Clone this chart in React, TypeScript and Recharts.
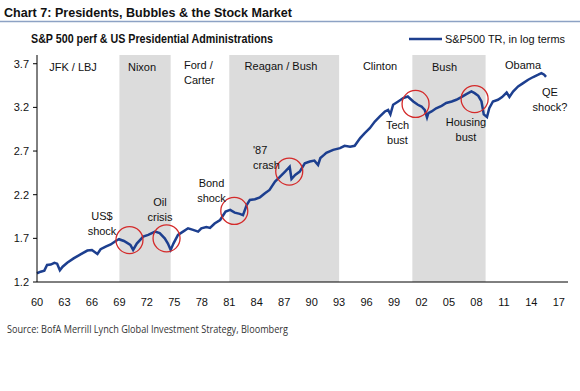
import { LineChart, Line, XAxis, YAxis, ReferenceArea, ReferenceDot } from "recharts";

// S&P500 total return, log10 terms
const years = [
  1960.0, 1960.4, 1960.8, 1961.1, 1961.5, 1961.9, 1962.2, 1962.5, 1962.8, 1963.3,
  1964.0, 1964.8, 1965.5, 1966.0, 1966.6, 1966.95, 1967.5, 1968.05, 1968.6, 1968.95,
  1969.5, 1970.2, 1970.5, 1970.9, 1971.6, 1972.15, 1972.9, 1973.4, 1973.95, 1974.3,
  1974.6, 1974.9, 1975.4, 1975.95, 1976.5, 1977.05, 1977.6, 1977.95, 1978.5, 1978.9,
  1979.4, 1980.0, 1980.6, 1981.1, 1981.6, 1982.15, 1982.5, 1982.9, 1983.25, 1983.8,
  1984.35, 1984.9, 1985.4, 1986.0, 1986.5, 1987.1, 1987.6, 1987.8, 1988.2, 1988.7,
  1989.25, 1989.8, 1990.3, 1990.7, 1990.95, 1991.35, 1991.6, 1992.35, 1993.1, 1993.6,
  1994.2, 1994.7, 1995.3, 1995.8, 1996.35, 1996.9, 1997.45, 1998.0, 1998.35, 1998.6,
  1998.9, 1999.45, 2000.0, 2000.5, 2001.1, 2001.6, 2002.0, 2002.35, 2002.6, 2002.75,
  2003.1, 2003.6, 2004.2, 2004.7, 2005.3, 2005.8, 2006.35, 2006.9, 2007.45, 2007.8,
  2008.2, 2008.55, 2008.8, 2009.15, 2009.4, 2009.8, 2010.35, 2010.8, 2011.3, 2011.6,
  2012.0, 2012.55, 2013.1, 2013.65, 2014.2, 2014.75, 2015.1, 2015.4, 2015.6,
];
const values = [
  1.30, 1.318, 1.33, 1.395, 1.40, 1.42, 1.41, 1.335, 1.375, 1.42,
  1.47, 1.52, 1.56, 1.567, 1.52, 1.575, 1.605, 1.63, 1.67, 1.69,
  1.67, 1.625, 1.567, 1.64, 1.72, 1.74, 1.777, 1.76, 1.70, 1.64,
  1.567, 1.64, 1.74, 1.777, 1.815, 1.797, 1.777, 1.815, 1.83, 1.82,
  1.87, 1.91, 2.006, 2.026, 1.995, 1.98, 1.965, 2.08, 2.14, 2.148,
  2.17, 2.217, 2.255, 2.35, 2.40, 2.465, 2.52, 2.38, 2.427, 2.465,
  2.56, 2.58, 2.59, 2.54, 2.62, 2.656, 2.68, 2.714, 2.733, 2.76,
  2.75, 2.76, 2.848, 2.905, 2.962, 3.038, 3.096, 3.153, 3.17, 3.12,
  3.23, 3.268, 3.307, 3.325, 3.268, 3.23, 3.21, 3.17, 3.085, 3.135,
  3.153, 3.19, 3.218, 3.25, 3.268, 3.287, 3.318, 3.352, 3.382, 3.363,
  3.333, 3.268, 3.12, 3.09, 3.19, 3.268, 3.287, 3.318, 3.37, 3.32,
  3.382, 3.44, 3.478, 3.517, 3.548, 3.574, 3.593, 3.575, 3.55,
];

const xTicks = [1960, 1963, 1966, 1969, 1972, 1975, 1978, 1981, 1984, 1987, 1990, 1993, 1996, 1999, 2002, 2005, 2008, 2011, 2014, 2017];
const yTicks = [1.2, 1.7, 2.2, 2.7, 3.2, 3.7];

// Republican administrations (shaded)
const bandStart = [1969.0, 1981.0, 2001.0];
const bandEnd = [1974.6, 1993.0, 2009.0];

// red circles round the bubbles / busts
const circleYears = [1970.1, 1974.15, 1981.55, 1987.55, 2001.35, 2007.8];
const circleValues = [1.68, 1.70, 2.014, 2.465, 3.24, 3.295];

const data = years.map((year, i) => ({ year, value: values[i] }));

const FONT = "'Liberation Sans', Arial, sans-serif";

function Label({ x, y, lines, anchor = "middle" }: { x: number; y: number; lines: string[]; anchor?: string }) {
  return (
    <text x={x} y={y + 4} textAnchor={anchor as any} fontSize={11} fontFamily={FONT} fill="#111">
      {lines.map((l, i) => (
        <tspan key={i} x={x} dy={i === 0 ? 0 : 15}>{l}</tspan>
      ))}
    </text>
  );
}

export default function App() {
  return (
    <div style={{ position: "relative", width: 580, height: 391, background: "#fff" }}>
      <style>{"body{margin:0}"}</style>
      <LineChart width={580} height={391} data={data} margin={{ top: 55, right: 12, left: 0, bottom: 79 }}>
        {bandStart.map((s, i) => (
          <ReferenceArea key={i} x1={s} x2={bandEnd[i]} y1={1.2} y2={3.8} fill="#dcdcdc" fillOpacity={1} stroke="none" />
        ))}
        <XAxis
          type="number"
          dataKey="year"
          domain={[1960, 2018]}
          ticks={xTicks}
          tickFormatter={(v: number) => String(v % 100).padStart(2, "0")}
          tickLine={false}
          tickMargin={10}
          height={30}
          axisLine={{ stroke: "#000", strokeWidth: 1 }}
          tick={{ fontSize: 11, fill: "#111", fontFamily: FONT }}
          interval={0}
        />
        <YAxis
          type="number"
          domain={[1.2, 3.8]}
          ticks={yTicks}
          tickFormatter={(v: number) => v.toFixed(1)}
          width={37}
          tickSize={4}
          tickMargin={4}
          axisLine={{ stroke: "#000", strokeWidth: 1 }}
          tickLine={{ stroke: "#000" }}
          tick={{ fontSize: 11, fill: "#111", fontFamily: FONT }}
          interval={0}
        />
        <Line type="linear" dataKey="value" stroke="#1d3f8f" strokeWidth={2.5} dot={false} isAnimationActive={false} />
        {circleYears.map((cx, i) => (
          <ReferenceDot key={i} x={cx} y={circleValues[i]} r={13.5} fill="none" stroke="#d42a2a" strokeWidth={1.3} />
        ))}
      </LineChart>
      <svg width={580} height={391} style={{ position: "absolute", left: 0, top: 0, pointerEvents: "none" }}>
        <text x={4} y={17} fontSize={13.5} fontWeight="bold" fontFamily={FONT} fill="#111" textLength={288} lengthAdjust="spacingAndGlyphs">
          Chart 7: Presidents, Bubbles &amp; the Stock Market
        </text>
        <line x1={0} x2={580} y1={21.5} y2={21.5} stroke="#8da2c4" strokeWidth={1.5} />
        <text x={31} y={43} fontSize={12} fontWeight="bold" fontFamily={FONT} fill="#111" textLength={242} lengthAdjust="spacingAndGlyphs">
          S&amp;P 500 perf &amp; US Presidential Administrations
        </text>
        <line x1={409} x2={442} y1={39} y2={39} stroke="#1d3f8f" strokeWidth={2.5} />
        <text x={445} y={43} fontSize={11.5} fontFamily={FONT} fill="#111" textLength={120} lengthAdjust="spacingAndGlyphs">
          S&amp;P500 TR, in log terms
        </text>

        <Label x={73} y={67} lines={["JFK / LBJ"]} />
        <Label x={142} y={67} lines={["Nixon"]} />
        <Label x={184} y={65} lines={["Ford /", "Carter"]} anchor="start" />
        <Label x={281} y={66} lines={["Reagan / Bush"]} />
        <Label x={380} y={66} lines={["Clinton"]} />
        <Label x={444.5} y={67} lines={["Bush"]} />
        <Label x={523} y={65} lines={["Obama"]} />
        <Label x={550} y={92} lines={["QE", "shock?"]} />
        <Label x={397.5} y={125} lines={["Tech", "bust"]} />
        <Label x={466} y={122} lines={["Housing", "bust"]} />
        <Label x={102} y={215.5} lines={["US$", "shock"]} />
        <Label x={160} y={202} lines={["Oil", "crisis"]} />
        <Label x={211.5} y={183} lines={["Bond", "shock"]} />
        <Label x={253} y={150} lines={["'87", "crash"]} anchor="start" />

        <text x={7} y={333} fontSize={10} fontFamily="'Open Sans', sans-serif" fill="#333" textLength={281} lengthAdjust="spacingAndGlyphs">
          Source: BofA Merrill Lynch Global Investment Strategy, Bloomberg
        </text>
      </svg>
    </div>
  );
}
